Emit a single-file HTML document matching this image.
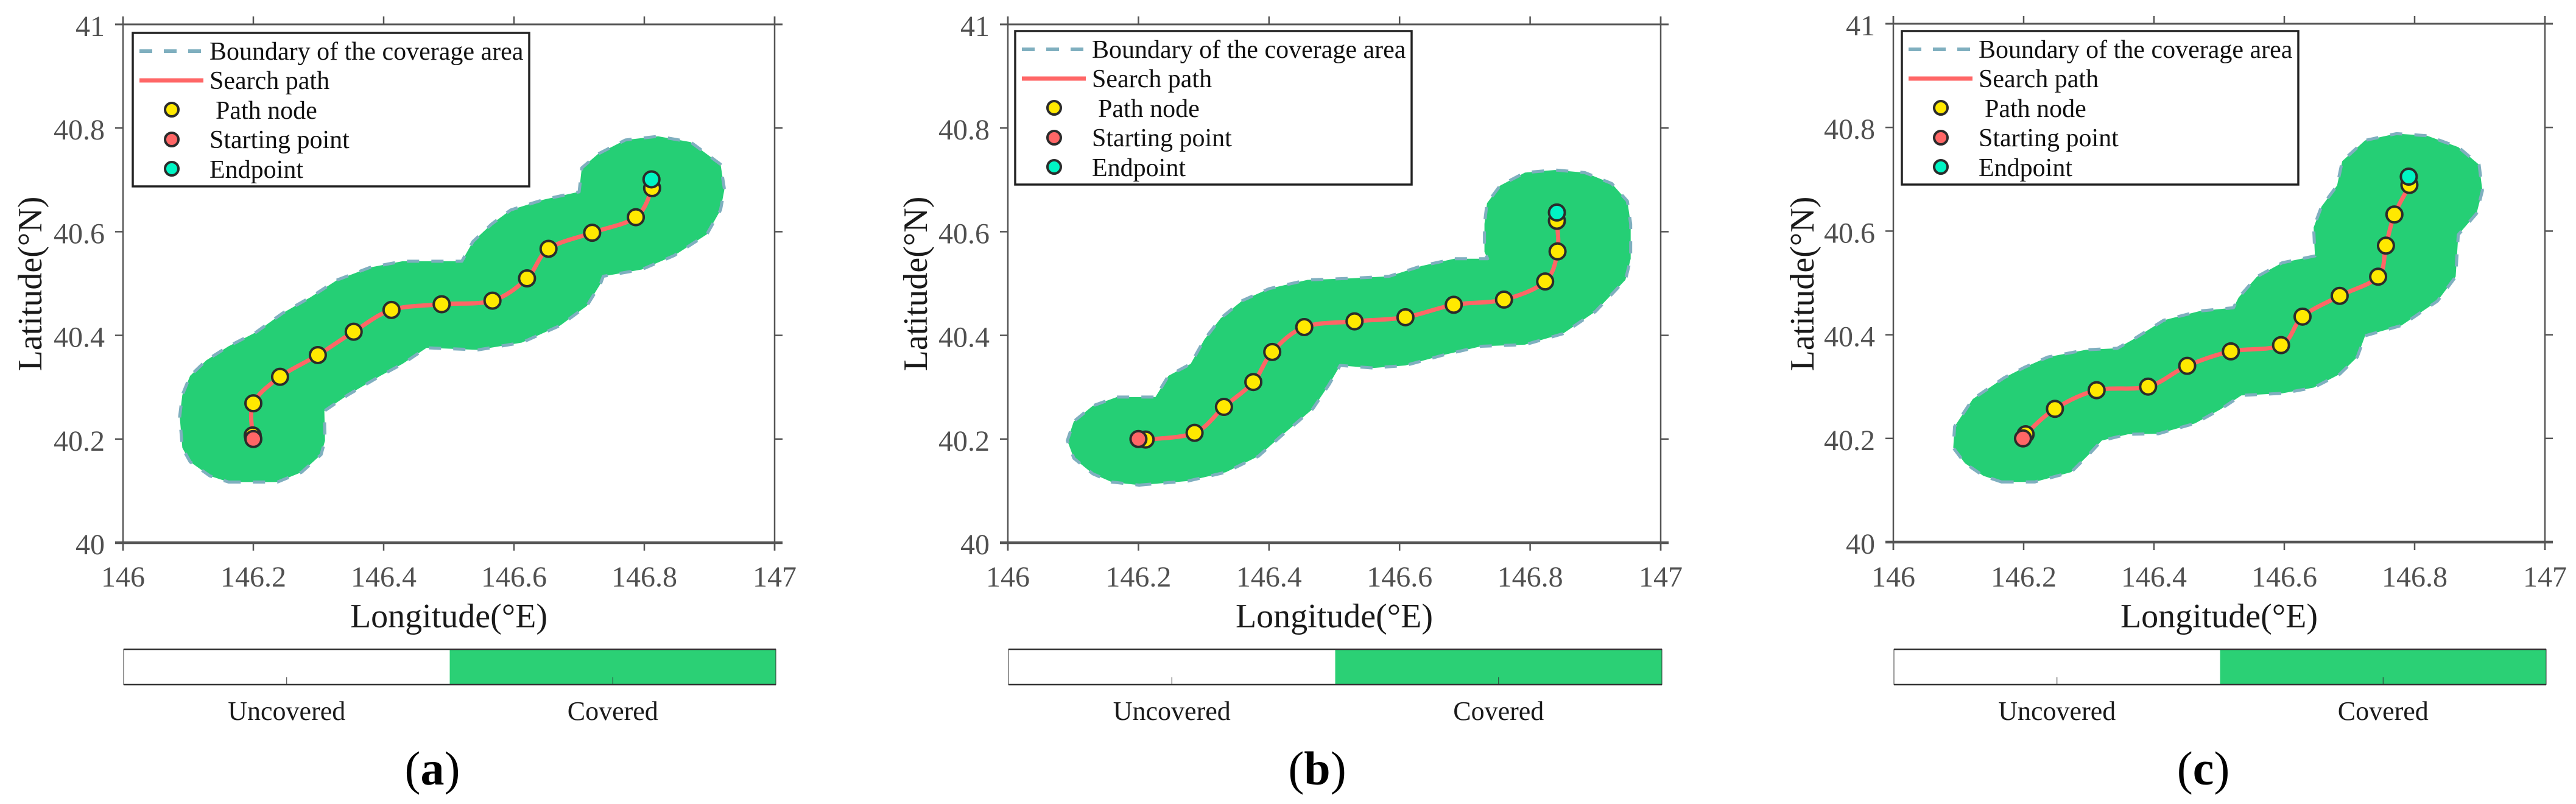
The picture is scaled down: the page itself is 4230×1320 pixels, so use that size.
<!DOCTYPE html>
<html lang="en">
<head>
<meta charset="utf-8">
<title>Coverage search paths</title>
<style>
html,body{margin:0;padding:0;background:#fff;width:4230px;height:1320px;overflow:hidden}
svg{display:block;font-family:"Liberation Serif",serif}
</style>
</head>
<body>
<svg id="figure" xmlns="http://www.w3.org/2000/svg" width="4230" height="1320" viewBox="0 0 4230 1320"></svg>
<script>
const xTickValues = [146, 146.2, 146.4, 146.6, 146.8, 147];
const xTickLabels = ['146', '146.2', '146.4', '146.6', '146.8', '147'];
const yTickValues = [40, 40.2, 40.4, 40.6, 40.8, 41];
const yTickLabels = ['40', '40.2', '40.4', '40.6', '40.8', '41'];
const colorbarCategories = ['Uncovered', 'Covered'];

const nodesLonA = [146.199,146.2,146.241,146.299,146.354,146.412,146.489,146.567,146.62,146.653,146.72,146.787,146.812];
const nodesLatA = [40.207,40.269,40.32,40.362,40.407,40.449,40.46,40.467,40.51,40.567,40.598,40.628,40.684];
const startLonA = 146.2, startLatA = 40.2, endLonA = 146.811, endLatA = 40.701;
const boundaryLonA = [146.162,146.237,146.274,146.304,146.31,146.309,146.345,146.395,146.429,146.466,146.545,146.612,146.671,146.712,146.733,146.737,146.796,146.846,146.896,146.917,146.923,146.917,146.871,146.821,146.771,146.729,146.704,146.7,146.646,146.595,146.566,146.537,146.52,146.429,146.379,146.329,146.287,146.245,146.204,146.162,146.128,146.103,146.091,146.087,146.091,146.103,146.133];
const boundaryLatA = [40.117,40.117,40.136,40.17,40.197,40.254,40.285,40.322,40.345,40.376,40.372,40.386,40.419,40.457,40.5,40.514,40.527,40.554,40.595,40.642,40.682,40.73,40.773,40.784,40.777,40.75,40.723,40.677,40.662,40.642,40.615,40.581,40.543,40.543,40.531,40.507,40.473,40.443,40.406,40.379,40.352,40.322,40.285,40.244,40.183,40.156,40.129];

const nodesLonB = [146.211,146.286,146.331,146.376,146.405,146.454,146.531,146.609,146.683,146.76,146.823,146.842,146.841];
const nodesLatB = [40.199,40.212,40.262,40.31,40.368,40.416,40.427,40.435,40.459,40.469,40.504,40.562,40.621];
const startLonB = 146.2, startLatB = 40.2, endLonB = 146.841, endLatB = 40.637;
const boundaryLonB = [146.201,146.276,146.334,146.384,146.417,146.467,146.492,146.509,146.559,146.609,146.667,146.725,146.792,146.85,146.9,146.946,146.954,146.954,146.949,146.925,146.884,146.838,146.792,146.754,146.734,146.73,146.73,146.735,146.684,146.634,146.584,146.525,146.459,146.4,146.359,146.326,146.301,146.28,146.246,146.226,146.167,146.13,146.101,146.091,146.101,146.13,146.159];
const boundaryLatB = [40.111,40.119,40.136,40.167,40.204,40.258,40.305,40.342,40.337,40.342,40.362,40.379,40.382,40.403,40.446,40.507,40.548,40.615,40.659,40.693,40.714,40.719,40.714,40.689,40.655,40.615,40.561,40.548,40.548,40.534,40.514,40.51,40.507,40.49,40.467,40.433,40.392,40.345,40.322,40.281,40.281,40.264,40.234,40.197,40.163,40.133,40.117];

const nodesLonC = [146.203,146.248,146.312,146.391,146.451,146.518,146.595,146.628,146.685,146.744,146.756,146.769,146.792];
const nodesLatC = [40.208,40.257,40.293,40.3,40.34,40.368,40.38,40.435,40.475,40.512,40.572,40.632,40.689];
const startLonC = 146.199, startLatC = 40.2, endLonC = 146.791, endLatC = 40.705;
const boundaryLonC = [146.166,146.217,146.273,146.3,146.32,146.36,146.407,146.463,146.502,146.534,146.597,146.645,146.685,146.712,146.724,146.78,146.835,146.863,146.867,146.895,146.904,146.899,146.867,146.819,146.772,146.724,146.689,146.681,146.657,146.645,146.647,146.597,146.558,146.53,146.522,146.471,146.415,146.368,146.344,146.296,146.237,146.201,146.17,146.122,146.094,146.092,146.11,146.138];
const boundaryLatC = [40.116,40.116,40.135,40.169,40.196,40.208,40.209,40.229,40.256,40.283,40.287,40.298,40.324,40.357,40.398,40.418,40.465,40.512,40.593,40.634,40.678,40.728,40.762,40.784,40.788,40.775,40.735,40.688,40.647,40.607,40.552,40.539,40.512,40.472,40.452,40.446,40.428,40.391,40.374,40.371,40.357,40.337,40.317,40.276,40.223,40.182,40.152,40.128];

const svg = document.getElementById('figure');
const NS = 'http://www.w3.org/2000/svg';
const AXIS = '#555555', DARK = '#2b2b2b';

function el(parent, tag, attrs, text) {
  const e = document.createElementNS(NS, tag);
  for (const k in attrs) e.setAttribute(k, attrs[k]);
  if (text !== undefined) e.textContent = text;
  parent.appendChild(e);
  return e;
}

function smoothPath(pts) {
  let d = 'M' + pts[0][0].toFixed(1) + ' ' + pts[0][1].toFixed(1);
  for (let i = 0; i < pts.length - 1; i++) {
    const p0 = pts[Math.max(i - 1, 0)], p1 = pts[i], p2 = pts[i + 1], p3 = pts[Math.min(i + 2, pts.length - 1)];
    const c1x = p1[0] + (p2[0] - p0[0]) / 6, c1y = p1[1] + (p2[1] - p0[1]) / 6;
    const c2x = p2[0] - (p3[0] - p1[0]) / 6, c2y = p2[1] - (p3[1] - p1[1]) / 6;
    d += 'C' + c1x.toFixed(1) + ' ' + c1y.toFixed(1) + ' ' + c2x.toFixed(1) + ' ' + c2y.toFixed(1) + ' ' + p2[0].toFixed(1) + ' ' + p2[1].toFixed(1);
  }
  return d;
}

function marker(parent, cx, cy, r, sw, fill, name) {
  const c = el(parent, 'circle', {cx: cx, cy: cy, r: r, fill: fill, stroke: DARK, 'stroke-width': sw});
  
  
  return c;
}

function drawLegend(parent, lx, ly) {
  const g = el(parent, 'g', {});
  
  
  const box = el(g, 'rect', {x: lx, y: ly, width: 651, height: 252, fill: '#fff', stroke: '#222', 'stroke-width': 3.5});
  
  
  const x0 = lx + 11, x1 = lx + 116, tx = lx + 126, mx = lx + 64;
  const l1 = el(g, 'line', {x1: x0, x2: x1, y1: ly + 30, y2: ly + 30, stroke: '#7fafbf', 'stroke-width': 6, 'stroke-dasharray': '21 19'});
  
  
  const l2 = el(g, 'line', {x1: x0, x2: x1, y1: ly + 78, y2: ly + 78, stroke: '#ff6666', 'stroke-width': 7});
  
  
  marker(g, mx, ly + 126, 11, 4, '#ffe900', 'legend-node-marker');
  marker(g, mx, ly + 175, 11, 4, '#ff6666', 'legend-start-marker');
  marker(g, mx, ly + 223, 11, 4, '#00f5c4', 'legend-end-marker');
  const base = 'fill:#111;font-size:42px';
  const t1 = el(g, 'text', {x: tx, y: ly + 44, style: base}, 'Boundary of the coverage area');
  
  
  const t2 = el(g, 'text', {x: tx, y: ly + 92, style: base}, 'Search path');
  
  
  const t3 = el(g, 'text', {x: tx + 10, y: ly + 141, style: base}, 'Path node');
  
  
  const t4 = el(g, 'text', {x: tx, y: ly + 189, style: base}, 'Starting point');
  
  
  const t5 = el(g, 'text', {x: tx, y: ly + 238, style: base}, 'Endpoint');
  
  
}

function drawPanel(letter, box, legendPos, ylabelX, captionX, nodesLon, nodesLat, startLon, startLat, endLon, endLat, bLon, bLat) {
  const g = el(svg, 'g', {});
  
  
  const sx = v => box.left + (v - xTickValues[0]) / (xTickValues[xTickValues.length - 1] - xTickValues[0]) * (box.right - box.left);
  const sy = v => box.bottom - (v - yTickValues[0]) / (yTickValues[yTickValues.length - 1] - yTickValues[0]) * (box.bottom - box.top);

  const area = el(g, 'polygon', {points: bLon.map((v, i) => sx(v).toFixed(1) + ',' + sy(bLat[i]).toFixed(1)).join(' '), fill: '#25cf75', stroke: '#7fafbf', 'stroke-width': 5, 'stroke-dasharray': '20 20', 'stroke-linejoin': 'round'});
  
  

  // axes frame
  const frame = [
    [box.left, box.top, box.right, box.top, 3],
    [box.left - 13, box.bottom, box.right + 13, box.bottom, 4.5],
    [box.left, box.top - 13, box.left, box.bottom + 13, 2.5],
    [box.right, box.top - 13, box.right, box.bottom + 13, 2.5]
  ];
  frame.forEach(f => {
    const ln = el(g, 'line', {x1: f[0], y1: f[1], x2: f[2], y2: f[3], stroke: AXIS, 'stroke-width': f[4]});
    
    
  });
  // top line extension
  const topExt = el(g, 'line', {x1: box.left - 13, y1: box.top, x2: box.right + 13, y2: box.top, stroke: AXIS, 'stroke-width': 3});
  
  

  xTickValues.forEach((v, i) => {
    const x = sx(v);
    const t1 = el(g, 'line', {x1: x, x2: x, y1: box.top - 13, y2: box.top, stroke: AXIS, 'stroke-width': 2.5});
    
    
    const t2 = el(g, 'line', {x1: x, x2: x, y1: box.bottom, y2: box.bottom + 13, stroke: AXIS, 'stroke-width': 2.5});
    
    
    const lb = el(g, 'text', {x: x, y: 963, 'text-anchor': 'middle', style: 'fill:#505050;font-size:48px'}, xTickLabels[i]);
    
    
  });
  yTickValues.forEach((v, i) => {
    const y = sy(v);
    const t1 = el(g, 'line', {x1: box.left - 13, x2: box.left, y1: y, y2: y, stroke: AXIS, 'stroke-width': 2.5});
    
    
    const t2 = el(g, 'line', {x1: box.right, x2: box.right + 13, y1: y, y2: y, stroke: AXIS, 'stroke-width': 2.5});
    
    
    const lb = el(g, 'text', {x: box.left - 30, y: y + 19, 'text-anchor': 'end', style: 'fill:#505050;font-size:48px'}, yTickLabels[i]);
    
    
  });

  // search path
  const pts = [[sx(startLon), sy(startLat)]].concat(nodesLon.map((v, i) => [sx(v), sy(nodesLat[i])]));
  pts.push([sx(endLon), sy(endLat)]);
  const path = el(g, 'path', {d: smoothPath(pts), fill: 'none', stroke: '#ff6666', 'stroke-width': 7});
  
  
  nodesLon.forEach((v, i) => {
    marker(g, sx(v), sy(nodesLat[i]), 13, 4, '#ffe900', 'path-node');
  });
  marker(g, sx(startLon), sy(startLat), 13, 4, '#ff6666', 'starting-point');
  marker(g, sx(endLon), sy(endLat), 13, 4, '#00f5c4', 'endpoint');

  drawLegend(g, legendPos.x, legendPos.y);

  const cx = (box.left + box.right) / 2;
  const xt = el(g, 'text', {x: cx, y: 1030, 'text-anchor': 'middle', style: 'fill:#1a1a1a;font-size:56px'}, 'Longitude(°E)');
  
  
  const yt = el(g, 'text', {x: 0, y: 0, 'text-anchor': 'middle', transform: 'translate(' + (ylabelX + 18) + ' 466) rotate(-90)', style: 'fill:#1a1a1a;font-size:56px'}, 'Latitude(°N)');
  
  

  // colorbar
  const barL = box.left + 1, barR = box.right + 2, barT = 1066, barB = 1124, barM = (barL + barR) / 2;
  const cb = el(g, 'g', {});
  
  
  const seg = el(cb, 'rect', {x: barM, y: barT, width: barR - barM, height: barB - barT, fill: '#2bd075'});
  
  
  const outline = el(cb, 'rect', {x: barL, y: barT, width: barR - barL, height: barB - barT, fill: 'none', stroke: '#333', 'stroke-width': 1});
  
  
  [barT, barB].forEach(y => {
    const h = el(cb, 'line', {x1: barL, x2: barR, y1: y, y2: y, stroke: '#333', 'stroke-width': 2.5});
    
    
  });
  colorbarCategories.forEach((c, i) => {
    const x = barL + (barR - barL) * (i + 0.5) / colorbarCategories.length;
    const tk = el(cb, 'line', {x1: x, x2: x, y1: barB - 12, y2: barB, stroke: '#333', 'stroke-width': 1});
    
    
    const lb = el(cb, 'text', {x: x, y: 1182, 'text-anchor': 'middle', style: 'fill:#1a1a1a;font-size:44px'}, c);
    
    
  });

  const cap = el(g, 'text', {x: captionX, y: 1288, 'text-anchor': 'middle', style: 'fill:#000;font-size:78px'});
  
  
  el(cap, 'tspan', {}, '(');
  el(cap, 'tspan', {style: 'font-weight:bold'}, letter);
  el(cap, 'tspan', {}, ')');
}

drawPanel('a', {left: 202, right: 1272, top: 40, bottom: 891}, {x: 218, y: 54}, 50, 710,
  nodesLonA, nodesLatA, startLonA, startLatA, endLonA, endLatA, boundaryLonA, boundaryLatA);
drawPanel('b', {left: 1655, right: 2727, top: 40, bottom: 891}, {x: 1667, y: 51}, 1504, 2163,
  nodesLonB, nodesLatB, startLonB, startLatB, endLonB, endLatB, boundaryLonB, boundaryLatB);
drawPanel('c', {left: 3109, right: 4179, top: 39, bottom: 890}, {x: 3123, y: 51}, 2960, 3618,
  nodesLonC, nodesLatC, startLonC, startLatC, endLonC, endLatC, boundaryLonC, boundaryLatC);
</script>
</body>
</html>
